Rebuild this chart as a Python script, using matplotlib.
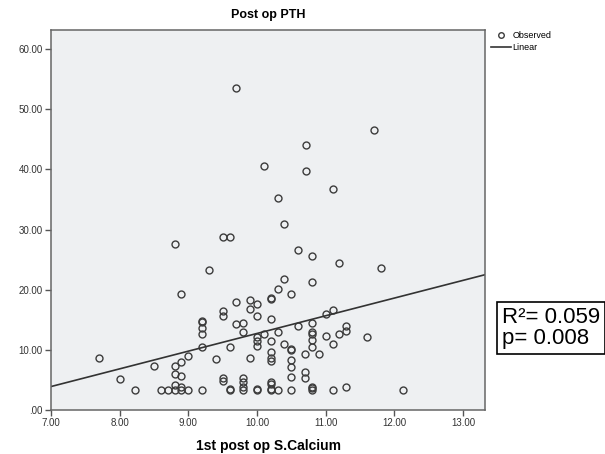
import matplotlib
matplotlib.use("Agg")
import matplotlib.pyplot as plt
from matplotlib.ticker import FuncFormatter

# ---------- data ----------
calcium = [
    9.70, 11.70, 10.71, 10.10, 10.71, 11.10, 10.30, 10.40, 9.50, 9.60,
    8.80, 10.60, 10.80, 11.20, 11.80, 9.30, 10.40, 10.80, 10.30, 8.90,
    10.50, 10.20, 10.20, 9.70, 9.90, 10.00, 9.90, 9.50, 9.50, 10.00,
    10.20, 11.10, 11.00,
    9.20, 9.20, 9.20, 9.20, 9.20, 9.20,
    9.70, 9.80, 9.80, 10.10, 10.30, 10.00, 10.00, 10.00, 10.20, 10.40,
    10.20, 10.20, 10.20, 9.60, 9.40, 9.90, 9.00, 8.90, 8.80, 8.90,
    8.80, 7.70, 8.50, 8.00, 8.23, 8.60, 8.70, 8.80, 8.80, 8.90,
    8.90, 9.00, 9.50, 9.50, 9.60, 9.60, 9.80, 9.80, 9.80, 9.80,
    10.00, 10.00, 10.20, 10.20, 10.20, 10.20, 10.30,
    10.50, 10.50, 10.50, 10.50, 10.50, 10.50,
    10.60, 10.70, 10.70, 10.70,
    10.80, 10.80, 10.80, 10.80, 10.80, 10.80, 10.80, 10.80,
    10.90, 11.00, 11.10, 11.20, 11.30, 11.30, 11.60, 11.10, 11.30, 12.13,
]
pth = [
    53.6, 46.5, 44.0, 40.6, 39.8, 36.7, 35.3, 30.9, 28.7, 28.8,
    27.6, 26.6, 25.6, 24.5, 23.6, 23.3, 21.8, 21.3, 20.1, 19.3,
    19.3, 18.6, 18.4, 18.0, 18.3, 17.6, 16.8, 16.5, 15.7, 15.7,
    15.2, 16.6, 15.9,
    14.8, 14.6, 13.7, 12.7, 10.4, 3.3,
    14.3, 14.5, 12.9, 12.6, 12.9, 12.1, 11.4, 10.7, 11.4, 10.9,
    9.7, 8.6, 8.2, 10.5, 8.4, 8.7, 9.0, 8.0, 7.3, 5.7,
    6.0, 8.7, 7.4, 5.2, 3.3, 3.4, 3.3, 3.3, 4.1, 3.9,
    3.3, 3.3, 5.3, 4.9, 3.5, 3.3, 5.3, 4.6, 3.9, 3.4,
    3.5, 3.3, 4.7, 4.4, 3.5, 3.3, 3.4,
    10.1, 9.9, 8.3, 7.2, 5.5, 3.3,
    14.0, 9.3, 6.3, 5.3,
    14.4, 12.9, 12.7, 11.7, 10.4, 3.9, 3.6, 3.3,
    9.3, 12.3, 10.9, 12.7, 13.9, 13.2, 12.2, 3.3, 3.8, 3.3,
]

# linear fit as reported by SPSS
fit_intercept = -16.7
fit_slope = 2.943
r_squared = 0.059
p_value = 0.008

x_ticks = [7, 8, 9, 10, 11, 12, 13]
y_ticks = [0, 10, 20, 30, 40, 50, 60]


def spss_fmt(v, pos=None):
    s = f"{v:.2f}"
    return s[1:] if s.startswith("0.") else s


plt.rcParams["font.family"] = ["Liberation Sans", "DejaVu Sans"]

fig = plt.figure(figsize=(6.05, 4.54), dpi=100)
ax = fig.add_axes([51 / 605, 44 / 454, 434 / 605, 380 / 454])
ax.set_facecolor("#eef0f2")

ax.plot(calcium, pth, linestyle="none", marker="o", markersize=5,
        markerfacecolor="none", markeredgecolor="#3c3c3c",
        markeredgewidth=1.0, label="Observed")

xlim = (7, 13.32)
ax.plot(xlim, [fit_intercept + fit_slope * x for x in xlim],
        color="#333333", linewidth=1.2, label="Linear")

ax.set_xlim(*xlim)
ax.set_ylim(0, 63.2)
ax.set_xticks(x_ticks)
ax.set_yticks(y_ticks)
ax.xaxis.set_major_formatter(FuncFormatter(spss_fmt))
ax.yaxis.set_major_formatter(FuncFormatter(spss_fmt))
ax.tick_params(direction="out", length=4, width=1, color="#555555",
               labelsize=7, labelcolor="#333333", pad=2)
for sp in ax.spines.values():
    sp.set_color("#666666")
    sp.set_linewidth(1.1)

ax.set_title("Post op PTH", fontsize=9, fontweight="bold", pad=9)
ax.set_xlabel("1st post op S.Calcium", fontsize=10, fontweight="bold",
              labelpad=8)

ax.legend(loc="upper left", bbox_to_anchor=(1.005, 1.006), frameon=False,
          fontsize=6.5, handlelength=2.2, handletextpad=0.2,
          labelspacing=0.35, borderaxespad=0, markerscale=0.8)

fig.text(502 / 605, (454 - 328) / 454,
         f"R\u00b2= {r_squared:.3f}\np= {p_value:.3f}",
         fontsize=16, ha="left", va="center", linespacing=1.0,
         bbox=dict(boxstyle="square,pad=0.22", facecolor="white",
                   edgecolor="black", linewidth=1.2))

fig.savefig("out.png", dpi=100)
